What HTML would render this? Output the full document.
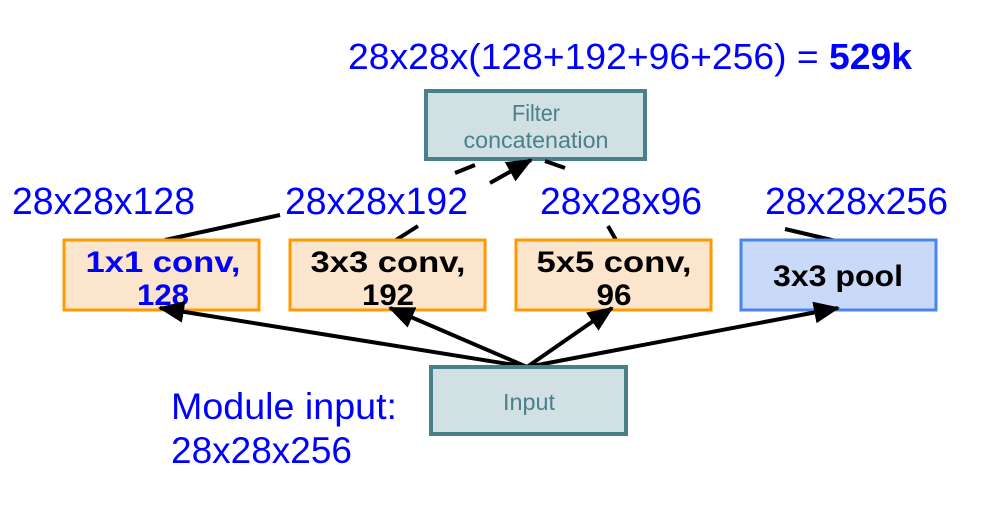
<!DOCTYPE html>
<html><head><meta charset="utf-8"><style>
html,body{margin:0;padding:0;background:#fff;}
svg{display:block;font-family:"Liberation Sans",sans-serif;}
</style></head><body>
<svg width="984" height="508" viewBox="0 0 984 508">
<defs>
<marker id="ah2" markerWidth="26" markerHeight="22" refX="24" refY="11" orient="auto" markerUnits="userSpaceOnUse" viewBox="0 0 26 22">
<path d="M0,0 L26,11 L0,22 z" fill="#000"/></marker>
</defs>
<text x="348" y="69" font-size="36" fill="#0000ff" textLength="564" lengthAdjust="spacingAndGlyphs">28x28x(128+192+96+256) = <tspan font-weight="bold">529k</tspan></text>

<g>
<rect x="426" y="91" width="219" height="68" fill="#d0e0e3" stroke="#4a7f8c" stroke-width="4"/>
<text x="536" y="121" font-size="23" fill="#4a7f8c" text-anchor="middle" textLength="48" lengthAdjust="spacingAndGlyphs">Filter</text>
<text x="536" y="148" font-size="23" fill="#4a7f8c" text-anchor="middle" textLength="145" lengthAdjust="spacingAndGlyphs">concatenation</text>
</g>

<g stroke="#000" stroke-width="4" fill="none">
<line x1="490" y1="183" x2="531" y2="160" marker-end="url(#ah2)"/>
<line x1="455" y1="173" x2="475" y2="165"/>
<line x1="545" y1="161" x2="565" y2="168"/>
<line x1="165" y1="240" x2="280" y2="215"/>
<line x1="396" y1="240" x2="418" y2="226"/>
<line x1="608" y1="226" x2="616" y2="240"/>
<line x1="785" y1="229" x2="836" y2="241"/>
</g>

<g font-size="38" fill="#0000ff">
<text x="12" y="214" textLength="183" lengthAdjust="spacingAndGlyphs">28x28x128</text>
<text x="285" y="214" textLength="183" lengthAdjust="spacingAndGlyphs">28x28x192</text>
<text x="540" y="214" textLength="162" lengthAdjust="spacingAndGlyphs">28x28x96</text>
<text x="765" y="214" textLength="183" lengthAdjust="spacingAndGlyphs">28x28x256</text>
</g>

<g>
<rect x="64" y="240" width="195" height="70" fill="#fce5cd" stroke="#ff9900" stroke-width="3"/>
<text x="163" y="272" font-size="30" font-weight="bold" fill="#0000ff" text-anchor="middle" textLength="155" lengthAdjust="spacingAndGlyphs">1x1 conv,</text>
<text x="163" y="305" font-size="30" font-weight="bold" fill="#0000ff" text-anchor="middle" textLength="52" lengthAdjust="spacingAndGlyphs">128</text>
</g>
<g>
<rect x="290" y="240" width="195" height="70" fill="#fce5cd" stroke="#ff9900" stroke-width="3"/>
<text x="388" y="272" font-size="30" font-weight="bold" fill="#000" text-anchor="middle" textLength="155" lengthAdjust="spacingAndGlyphs">3x3 conv,</text>
<text x="388" y="305" font-size="30" font-weight="bold" fill="#000" text-anchor="middle" textLength="52" lengthAdjust="spacingAndGlyphs">192</text>
</g>
<g>
<rect x="516" y="240" width="195" height="70" fill="#fce5cd" stroke="#ff9900" stroke-width="3"/>
<text x="614" y="272" font-size="30" font-weight="bold" fill="#000" text-anchor="middle" textLength="155" lengthAdjust="spacingAndGlyphs">5x5 conv,</text>
<text x="614" y="305" font-size="30" font-weight="bold" fill="#000" text-anchor="middle" textLength="35" lengthAdjust="spacingAndGlyphs">96</text>
</g>
<g>
<rect x="741" y="240" width="195" height="70" fill="#c9daf8" stroke="#4a86e8" stroke-width="3"/>
<text x="838" y="286" font-size="30" font-weight="bold" fill="#000" text-anchor="middle" textLength="130" lengthAdjust="spacingAndGlyphs">3x3 pool</text>
</g>

<g stroke="#000" stroke-width="4" fill="none">
<line x1="527" y1="367" x2="160" y2="308" marker-end="url(#ah2)"/>
<line x1="527" y1="367" x2="390" y2="308" marker-end="url(#ah2)"/>
<line x1="527" y1="367" x2="612" y2="308" marker-end="url(#ah2)"/>
<line x1="527" y1="367" x2="838" y2="308" marker-end="url(#ah2)"/>
</g>

<g>
<rect x="431" y="367" width="195" height="67" fill="#d0e0e3" stroke="#4a7f8c" stroke-width="4"/>
<text x="529" y="410" font-size="23" fill="#4a7f8c" text-anchor="middle" textLength="52" lengthAdjust="spacingAndGlyphs">Input</text>
</g>

<g font-size="37" fill="#0000ff">
<text x="171" y="419" textLength="226" lengthAdjust="spacingAndGlyphs">Module input:</text>
<text x="171" y="463" textLength="181" lengthAdjust="spacingAndGlyphs">28x28x256</text>
</g>
</svg>
</body></html>
